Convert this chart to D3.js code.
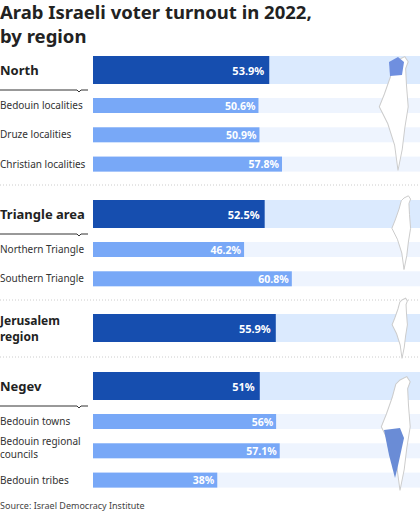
<!DOCTYPE html><html><head><meta charset="utf-8"><script src="https://cdn.jsdelivr.net/npm/d3@7"></script>
<style>body{margin:0;background:#fff;font-family:"Noto Sans",sans-serif}</style></head><body><svg id="c" width="420" height="524"></svg>
<script>
const groups=["North","Triangle area","Jerusalem region","Negev"];
const groupValues=[53.9,52.5,55.9,51];
const subLabels=[["Bedouin localities","Druze localities","Christian localities"],["Northern Triangle","Southern Triangle"],[],["Bedouin towns","Bedouin regional councils","Bedouin tribes"]];
const subValues=[[50.6,50.9,57.8],[46.2,60.8],[],[56,57.1,38]];
const groupTops=[56,200,314,372];
const svg=d3.select("#c");
const x=d3.scaleLinear().domain([0,100]).range([93,420]);
svg.append("text").attr("x",0).attr("y",19).attr("font-size",18.5).attr("font-weight",700).attr("fill","#222").text("Arab Israeli voter turnout in 2022,");
svg.append("text").attr("x",0).attr("y",43).attr("font-size",18.5).attr("font-weight",700).attr("fill","#222").text("by region");
const fmt=v=>v+"%";
const mapPts=[[0,0],[8,-4],[12,2],[9,10],[10,30],[12,55],[8,80],[5,105],[0,130],[-4,100],[-12,75],[-22,55],[-16,40],[-9,20],[-5,5]];
const line=d3.line().curve(d3.curveLinearClosed);
groups.forEach((g,i)=>{
  const t=groupTops[i];
  svg.append("rect").attr("x",x(0)).attr("y",t).attr("width",x(100)-x(0)).attr("height",28).attr("fill","#dbeafe");
  svg.append("rect").attr("x",x(0)).attr("y",t).attr("width",x(groupValues[i])-x(0)).attr("height",28).attr("fill","#164eaf");
  svg.append("text").attr("x",x(groupValues[i])-5).attr("y",t+19).attr("text-anchor","end").attr("font-size",11).attr("font-weight",700).attr("fill","#fff").text(fmt(groupValues[i]));
  const lines=g==="Jerusalem region"?["Jerusalem","region"]:[g];
  lines.forEach((l,k)=>svg.append("text").attr("x",0).attr("y",lines.length>1?t+11+k*16:t+19).attr("font-size",lines.length>1?12:13).attr("font-weight",700).attr("fill","#222").text(l));
  if(subLabels[i].length){
    svg.append("path").attr("d",`M0,${t+34}H77l2,2l2,-2H88`).attr("fill","none").attr("stroke","#333").attr("stroke-width",1);
  }
  subLabels[i].forEach((s,j)=>{
    const y=t+42+j*29.3;
    svg.append("rect").attr("x",x(0)).attr("y",y).attr("width",x(100)-x(0)).attr("height",15).attr("fill","#eef4fe");
    svg.append("rect").attr("x",x(0)).attr("y",y).attr("width",x(subValues[i][j])-x(0)).attr("height",15).attr("fill","#78a8f7");
    svg.append("text").attr("x",x(subValues[i][j])-3).attr("y",y+11.5).attr("text-anchor","end").attr("font-size",10.5).attr("font-weight",700).attr("fill","#fff").text(fmt(subValues[i][j]));
    if(s==="Bedouin regional councils"){
      svg.append("text").attr("x",0).attr("y",y+2).attr("font-size",10).attr("fill","#333").text("Bedouin regional");
      svg.append("text").attr("x",0).attr("y",y+15).attr("font-size",10).attr("fill","#333").text("councils");
    } else svg.append("text").attr("x",0).attr("y",y+11).attr("font-size",10).attr("fill","#333").text(s);
  });
  const mapTop=[60,198,300,380][i];
  const sc=[0.85,0.55,0.45,0.85][i];
  svg.append("path").attr("d",line(mapPts)).attr("transform",`translate(${[398,404,402,400][i]},${mapTop}) scale(${sc})`).attr("fill","#fff").attr("stroke","#ccc").attr("stroke-width",1/sc);
  if(i<3){svg.append("line").attr("x1",0).attr("x2",420).attr("y1",[185,300,357][i]).attr("y2",[185,300,357][i]).attr("stroke","#ccc").attr("stroke-dasharray","1,2");}
});
svg.append("path").attr("d","M389,62L398,57L404,62L402,75L390,76Z").attr("fill","#6f8fdf");
svg.append("path").attr("d","M384,430L400,428L404,438L397,470L395,478L389,455Z").attr("fill","#6a8cd6");
svg.append("text").attr("x",0).attr("y",509).attr("font-size",9).attr("fill","#444").text("Source: Israel Democracy Institute");
</script></body></html>
